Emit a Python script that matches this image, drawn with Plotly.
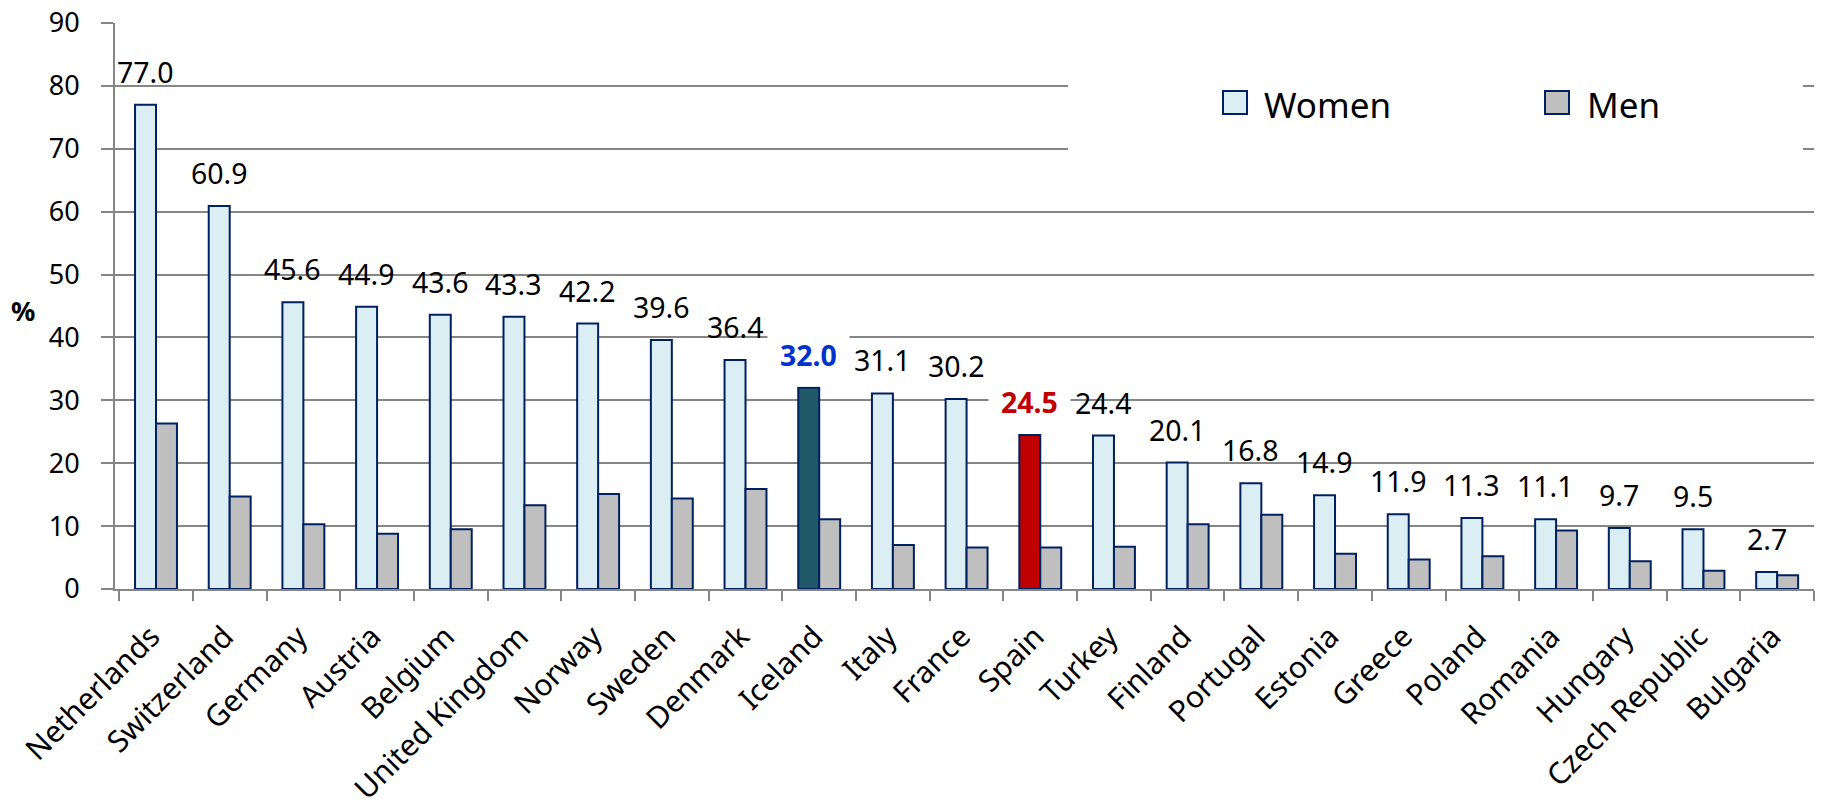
import plotly.graph_objects as go

# Share of employed working part-time, by sex (%)
countries = ["Netherlands", "Switzerland", "Germany", "Austria", "Belgium",
             "United Kingdom", "Norway", "Sweden", "Denmark", "Iceland", "Italy",
             "France", "Spain", "Turkey", "Finland", "Portugal", "Estonia",
             "Greece", "Poland", "Romania", "Hungary", "Czech Republic", "Bulgaria"]
women = [77.0, 60.9, 45.6, 44.9, 43.6, 43.3, 42.2, 39.6, 36.4, 32.0, 31.1, 30.2,
         24.5, 24.4, 20.1, 16.8, 14.9, 11.9, 11.3, 11.1, 9.7, 9.5, 2.7]
men = [26.3, 14.7, 10.3, 8.8, 9.5, 13.3, 15.1, 14.4, 15.9, 11.1, 7.0, 6.6,
       6.6, 6.7, 10.3, 11.8, 5.6, 4.7, 5.2, 9.3, 4.4, 2.9, 2.2]
y_ticks = [0, 10, 20, 30, 40, 50, 60, 70, 80, 90]

# Highlighted countries: bar fill and label colour
highlight = {"Iceland": ("#215868", "#0033CC"), "Spain": ("#C00000", "#C00000")}

FONT = "Noto Sans"
W, H = 1824, 808
ML, MR, MT, MB = 115, 10, 23, 219
PW, PH = W - ML - MR, H - MT - MB

WOMEN_FILL = "#DAEEF3"
MEN_FILL = "#BFBFBF"
OUTLINE = "#002060"
GRID = "#868686"
BARGAP = 0.431


def px_x(px):
    return (px - ML) / PW


def px_y(py):
    return (H - MB - py) / PH


women_fill = [highlight.get(c, (WOMEN_FILL, None))[0] for c in countries]

fig = go.Figure()
fig.add_trace(go.Bar(
    name="Women", x=countries, y=women,
    marker=dict(color=women_fill, line=dict(color=OUTLINE, width=2)),
    showlegend=False, hoverinfo="x+y",
))
fig.add_trace(go.Bar(
    name="Men", x=countries, y=men,
    marker=dict(color=MEN_FILL, line=dict(color=OUTLINE, width=2)),
    showlegend=False, hoverinfo="x+y",
))

# value labels above the women bars
cat_w = PW / len(countries)
bar_w = cat_w * (1 - BARGAP) / 2
annotations = []
for c, v in zip(countries, women):
    hl = highlight.get(c)
    ann = dict(
        x=c, y=v, xref="x", yref="y", text=f"{v:.1f}", showarrow=False,
        xanchor="center", yanchor="middle", xshift=-bar_w / 2, yshift=33,
        font=dict(family=FONT, size=28.5, color="#000000"),
    )
    if hl:
        ann["text"] = f"<b>{v:.1f}</b>"
        ann["font"]["color"] = hl[1]
        ann["bgcolor"] = "#FFFFFF"
        ann["borderpad"] = 12
    annotations.append(ann)

# y-axis title
annotations.append(dict(
    x=px_x(23), y=px_y(310), xref="paper", yref="paper", text="<b>%</b>",
    showarrow=False, xanchor="center", yanchor="middle",
    font=dict(family=FONT, size=27, color="#000000"),
))

# legend
shapes = [
    dict(type="rect", xref="paper", yref="paper", layer="above",
         x0=px_x(1068), x1=px_x(1803), y0=px_y(195), y1=px_y(40),
         fillcolor="#FFFFFF", line=dict(width=0)),
]
for name, fill, box_left, text_left in [("Women", WOMEN_FILL, 1223, 1262),
                                        ("Men", MEN_FILL, 1545, 1585)]:
    shapes.append(dict(type="rect", xref="paper", yref="paper", layer="above",
                       x0=px_x(box_left), x1=px_x(box_left + 24),
                       y0=px_y(114), y1=px_y(91),
                       fillcolor=fill, line=dict(color=OUTLINE, width=2)))
    annotations.append(dict(
        x=px_x(text_left), y=px_y(104), xref="paper", yref="paper", text=name,
        showarrow=False, xanchor="left", yanchor="middle",
        font=dict(family=FONT, size=35, color="#000000"),
    ))

fig.update_layout(
    width=W, height=H,
    margin=dict(l=ML, r=MR, t=MT, b=MB, autoexpand=False),
    paper_bgcolor="#FFFFFF", plot_bgcolor="#FFFFFF",
    barmode="group", bargap=BARGAP, bargroupgap=0,
    font=dict(family=FONT, color="#000000"),
    annotations=annotations, shapes=shapes,
    xaxis=dict(
        type="category", showgrid=False, showline=True, linecolor=GRID,
        linewidth=2, ticks="outside", tickson="boundaries", ticklen=10,
        tickcolor=GRID, tickwidth=2, tickangle=-45, automargin=False,
        tickfont=dict(family=FONT, size=30, color="#000000"),
        ticklabelstandoff=16, ticklabelshift=-5,
    ),
    yaxis=dict(
        range=[0, 90], tickvals=y_ticks, showgrid=True, gridcolor=GRID,
        gridwidth=2, zeroline=False, showline=True, linecolor=GRID,
        linewidth=2, ticks="outside", ticklen=12, tickcolor=GRID,
        tickwidth=2, automargin=False, ticklabelstandoff=16,
        tickfont=dict(family=FONT, size=27, color="#000000"),
    ),
)

fig.write_html("out.html")
